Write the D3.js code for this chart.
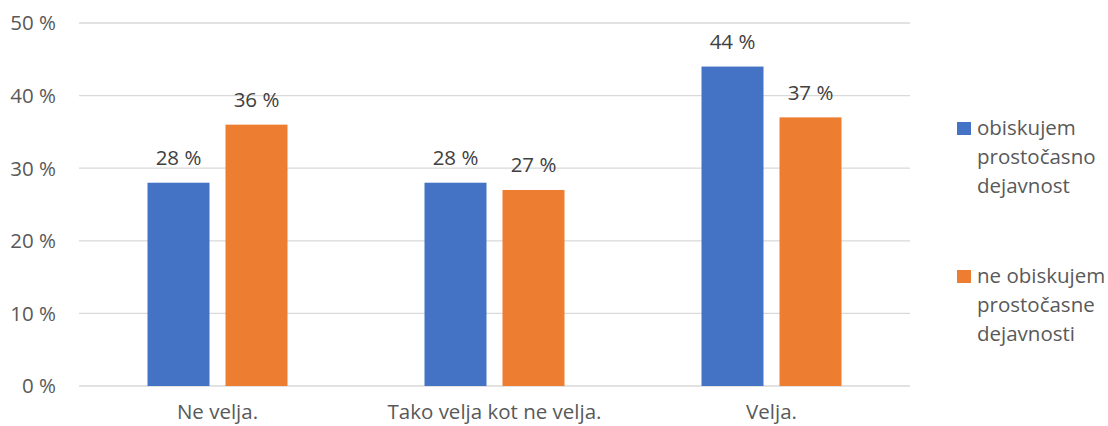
<!DOCTYPE html>
<html>
<head>
<meta charset="utf-8">
<script src="https://cdn.jsdelivr.net/npm/d3@7"></script>
<style>
  body { margin: 0; background: #fff; }
  svg text { font-family: "Open Sans", sans-serif; }
</style>
</head>
<body>
<div id="viz"></div>
<script>
// values
let categories = ["Ne velja.", "Tako velja kot ne velja.", "Velja."];
let seriesNames = ["obiskujem prostočasno dejavnost", "ne obiskujem prostočasne dejavnosti"];
let visiting = [28, 28, 44];
let notVisiting = [36, 27, 37];
let yTicks = [0, 10, 20, 30, 40, 50];
let legendLines = [["obiskujem", "prostočasno", "dejavnost"], ["ne obiskujem", "prostočasne", "dejavnosti"]];

let colours = ["#4472c4", "#ed7d31"];
let width = 1108, height = 426;
let plot = { left: 79, right: 910, top: 23, bottom: 386 };
let fontSize = 20.5;

let svg = d3.select("#viz").append("svg")
  .attr("width", width)
  .attr("height", height);

let x = d3.scaleBand()
  .domain(categories)
  .range([plot.left, plot.right]);

let y = d3.scaleLinear()
  .domain([0, 50])
  .range([plot.bottom, plot.top]);

let barW = 62, barGap = 16;
let inner = d3.scaleOrdinal()
  .domain([0, 1])
  .range([-(barW + barGap / 2), barGap / 2]);

// gridlines + y labels
svg.append("g")
  .selectAll("line")
  .data(yTicks)
  .join("line")
  .attr("x1", plot.left)
  .attr("x2", plot.right)
  .attr("y1", d => y(d))
  .attr("y2", d => y(d))
  .attr("stroke", "#d9d9d9")
  .attr("stroke-width", 1.3);

svg.append("g")
  .selectAll("text")
  .data(yTicks)
  .join("text")
  .attr("x", 56)
  .attr("y", d => y(d))
  .attr("dy", "0.36em")
  .attr("text-anchor", "end")
  .attr("font-size", fontSize)
  .attr("fill", "#595959")
  .text(d => d + " %");

// category labels (kept just inside the bottom edge)
svg.append("g")
  .selectAll("text")
  .data(categories)
  .join("text")
  .attr("x", d => x(d) + x.bandwidth() / 2)
  .attr("y", 419)
  .attr("text-anchor", "middle")
  .attr("font-size", fontSize)
  .attr("fill", "#595959")
  .text(d => d);

// bars
let rows = [];
categories.forEach((c, i) => {
  rows.push({ cat: c, s: 0, v: visiting[i] });
  rows.push({ cat: c, s: 1, v: notVisiting[i] });
});

let bars = svg.append("g");
bars.selectAll("rect")
  .data(rows)
  .join("rect")
  .attr("x", d => x(d.cat) + x.bandwidth() / 2 + inner(d.s))
  .attr("y", d => y(d.v))
  .attr("width", barW)
  .attr("height", d => y(0) - y(d.v))
  .attr("fill", d => colours[d.s]);

bars.selectAll("text")
  .data(rows)
  .join("text")
  .attr("x", d => x(d.cat) + x.bandwidth() / 2 + inner(d.s) + barW / 2)
  .attr("y", d => y(d.v) - 25)
  .attr("dy", "0.36em")
  .attr("text-anchor", "middle")
  .attr("font-size", fontSize)
  .attr("fill", "#404040")
  .text(d => d.v + " %");

// legend
let legend = svg.append("g");
let legendBase = [135, 283];
legendLines.forEach((lines, i) => {
  legend.append("rect")
    .attr("x", 957)
    .attr("y", legendBase[i] - 13)
    .attr("width", 14)
    .attr("height", 13)
    .attr("fill", colours[i]);
  legend.append("text")
    .attr("font-size", fontSize)
    .attr("fill", "#595959")
    .selectAll("tspan")
    .data(lines)
    .join("tspan")
    .attr("x", 977)
    .attr("y", (d, j) => legendBase[i] + j * 29)
    .text(d => d);
});
</script>
</body>
</html>
